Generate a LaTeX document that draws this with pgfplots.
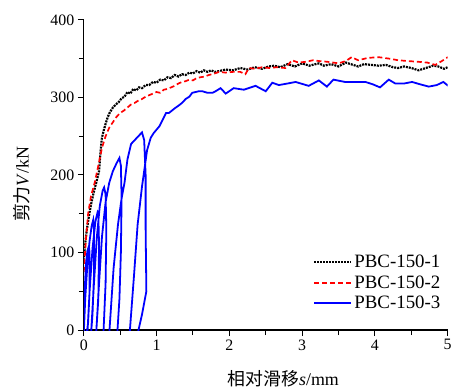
\documentclass[border=0pt]{standalone}
\usepackage{fontspec}
\setmainfont{Liberation Serif}
\newfontfamily\cjk{Noto Sans CJK SC}
\usepackage{pgfplots}
\pgfplotsset{compat=1.18}
\begin{document}
\begin{tikzpicture}
\begin{axis}[
  scale only axis,
  width=365bp, height=311bp,
  xmin=0, xmax=5, ymin=0, ymax=400,
  xtick={0,1,2,3,4,5}, ytick={0,100,200,300,400},
  minor x tick num=1, minor y tick num=1,
  axis x line*=bottom, axis y line*=left,
  tick align=outside,
  major tick length=6bp, minor tick length=5bp,
  every tick/.style={black, line width=1pt},
  axis line style={line width=1.2pt},
  /pgf/number format/assume math mode=true,
  tick label style={font=\fontsize{16}{18}\selectfont},
  xlabel={{\cjk 相对滑移}\textit{s}/mm},
  ylabel={{\cjk 剪力}\textit{V}/kN},
  label style={font=\fontsize{18}{20}\selectfont},
  xlabel style={at={(axis description cs:0.548,-0.158)}, anchor=center},
  ylabel style={at={(axis description cs:-0.17,0.47)}, anchor=center},
  legend style={draw=none, fill=none, at={(axis cs:4.97,20)}, anchor=south east,
    font=\fontsize{19}{21}\selectfont, row sep=2.5pt},
  legend cell align=left,
  legend image code/.code={\draw[#1] (0bp,0bp) -- (37bp,0bp);},
]
\addplot[black, line width=2.2pt, dash pattern=on 2pt off 1pt] coordinates {
(0,90) (0.02,112) (0.04,128) (0.06,140) (0.08,152) (0.10,162) (0.13,175) (0.16,186)
(0.19,197) (0.21,205) (0.23,230) (0.25,248) (0.27,256) (0.30,266) (0.33,275) (0.36,281)
(0.40,287) (0.44,291) (0.48,294) (0.52,299) (0.56,301) (0.60,307) (0.64,305) (0.68,311)
(0.72,309) (0.76,313) (0.80,312) (0.85,316) (0.90,316) (0.95,320) (1.00,319) (1.05,323)
(1.10,322) (1.15,326) (1.20,325) (1.25,329) (1.30,327) (1.35,330) (1.40,329) (1.45,332)
(1.50,331) (1.55,334) (1.60,332) (1.65,335) (1.70,333) (1.75,335) (1.80,333) (1.86,334)
(1.95,336) (2.05,335) (2.15,338) (2.25,336) (2.35,339) (2.45,337) (2.54,340) (2.62,341)
(2.70,339) (2.80,343) (2.90,340) (3.00,344) (3.10,341) (3.23,344) (3.30,341) (3.40,343)
(3.50,340) (3.60,345) (3.70,342) (3.77,340) (3.85,343) (3.95,342) (4.05,341) (4.15,342)
(4.25,339) (4.32,338) (4.40,340) (4.50,338) (4.60,335) (4.70,338) (4.80,341) (4.87,340)
(4.95,337) (5.00,339)
};
\addlegendentry{PBC-150-1}
\addplot[red, line width=1.7pt, dash pattern=on 5pt off 3pt] coordinates {
(0,75) (0.03,117) (0.06,150) (0.10,173) (0.15,190) (0.20,212) (0.25,235) (0.30,250)
(0.35,261) (0.40,268) (0.45,275) (0.50,280) (0.55,283) (0.60,287) (0.65,291) (0.70,293)
(0.75,296) (0.80,298) (0.85,301) (0.90,303) (0.95,305) (1.00,307) (1.05,306) (1.10,310)
(1.15,311) (1.20,313) (1.25,315) (1.30,318) (1.35,320) (1.40,321) (1.45,323) (1.50,322)
(1.55,325) (1.60,326) (1.66,327) (1.72,329) (1.80,331) (1.86,333) (1.95,332) (2.05,333)
(2.15,333) (2.22,330) (2.27,338) (2.35,337) (2.45,339) (2.55,338) (2.65,339) (2.77,338)
(2.86,348) (2.95,345) (3.05,346) (3.15,348) (3.23,347) (3.35,346) (3.50,344) (3.60,347)
(3.68,352) (3.77,348) (3.90,351) (4.05,352) (4.20,350) (4.32,348) (4.45,347) (4.60,346)
(4.72,345) (4.83,342) (4.92,347) (5.00,352)
};
\addlegendentry{PBC-150-2}
\addplot[blue, line width=1.8pt] coordinates {
(0,-5) (0,0) (0.01,45) (0.03,85) (0.05,102) (0.07,108) (0.08,100) (0.08,50) (0.06,10) (0.04,-5)
(0.00,-5) (0.02,40) (0.05,85) (0.08,115) (0.11,135) (0.13,142) (0.14,130) (0.14,70) (0.12,20) (0.10,-5)
(0.05,-5) (0.08,50) (0.12,105) (0.16,140) (0.19,152) (0.20,150) (0.21,110) (0.20,40) (0.17,-5)
(0.10,-5) (0.14,60) (0.18,120) (0.22,160) (0.26,180) (0.28,184) (0.30,175) (0.31,130) (0.30,60) (0.27,-5)
(0.17,-5) (0.21,60) (0.25,120) (0.30,165) (0.35,190) (0.40,205) (0.45,215) (0.49,222) (0.51,212) (0.52,170) (0.51,100) (0.49,40) (0.46,-5)
(0.35,-5) (0.41,80) (0.47,136) (0.52,170) (0.56,190) (0.60,220) (0.65,240) (0.70,245) (0.75,250) (0.80,255) (0.83,245) (0.85,200) (0.85,130) (0.86,50) (0.80,20) (0.74,-5)
(0.63,-5) (0.69,70) (0.74,136) (0.80,185) (0.87,232) (0.92,248) (0.96,254) (1.04,263)
(1.13,280) (1.17,280) (1.25,286) (1.31,290) (1.35,293) (1.40,298) (1.45,301) (1.49,306)
(1.58,308) (1.63,308) (1.70,306) (1.77,306) (1.81,308) (1.88,312) (1.95,305) (2.06,312)
(2.20,310) (2.36,315) (2.50,308) (2.59,319) (2.68,316) (2.80,318) (2.91,320) (3.09,315)
(3.23,322) (3.34,314) (3.43,323) (3.59,320) (3.75,320) (3.87,320) (3.97,317) (4.07,313)
(4.19,323) (4.28,318) (4.40,318) (4.51,320) (4.62,317) (4.74,314) (4.85,316) (4.94,320) (5.02,314)
};
\addlegendentry{PBC-150-3}
\end{axis}
\path ([shift={(-84bp,-58bp)}]current axis.south west) rectangle ([shift={(6bp,20bp)}]current axis.north east);
\end{tikzpicture}
\end{document}
